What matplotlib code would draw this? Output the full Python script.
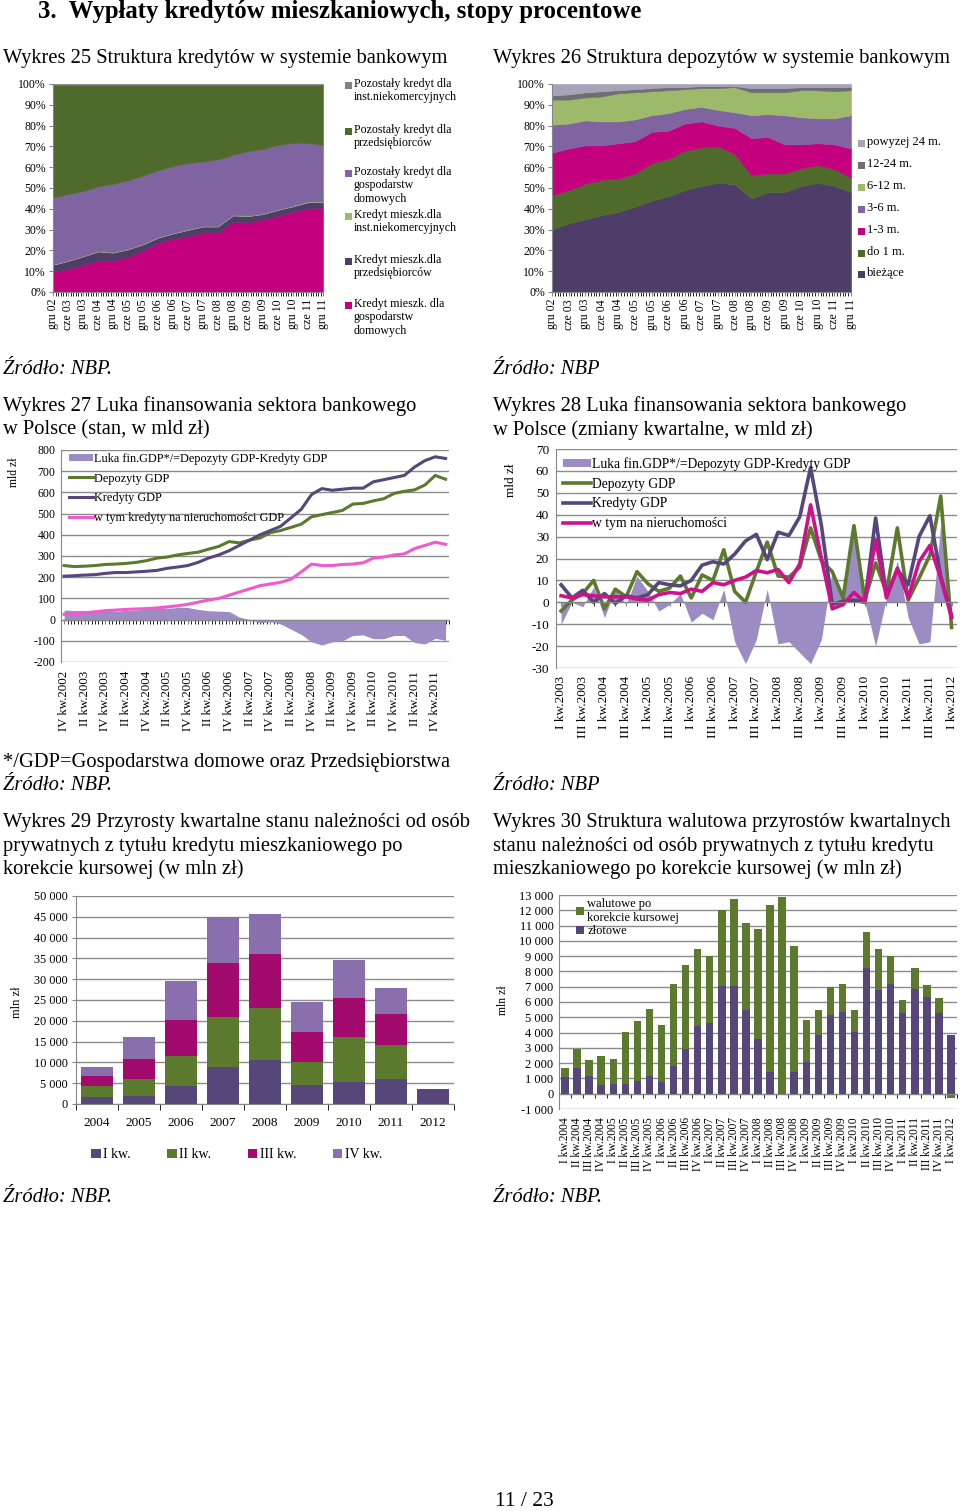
import numpy as np
import matplotlib.pyplot as plt
from matplotlib.patches import Rectangle
from matplotlib.ticker import FuncFormatter

plt.rcParams['font.family'] = ['Liberation Serif', 'DejaVu Serif']
plt.rcParams['axes.unicode_minus'] = False

# ---- Wykres 25: struktura kredytów (udziały %, co pół roku) ----
polrocza = ['gru 02', 'cze 03', 'gru 03', 'cze 04', 'gru 04', 'cze 05', 'gru 05',
            'cze 06', 'gru 06', 'cze 07', 'gru 07', 'cze 08', 'gru 08', 'cze 09',
            'gru 09', 'cze 10', 'gru 10', 'cze 11', 'gru 11']
kr_mieszk_gd = [10, 11, 13, 15, 15, 17, 20, 23.5, 25.5, 27, 28.5, 28.5, 34, 33.5, 35, 36.5, 38.5, 40, 40.5]
kr_mieszk_prz = [3, 4, 4, 4.5, 4, 3.5, 3, 2.5, 2.5, 3, 3, 3, 3, 3, 2.5, 3, 2.5, 3, 2.5]
kr_mieszk_inst = [0.3, 0.3, 0.3, 0.3, 0.3, 0.3, 0.3, 0.3, 0.3, 0.3, 0.3, 0.3, 0.3, 0.3, 0.3, 0.3, 0.3, 0.4, 0.4]
poz_gd = [32, 32, 31, 31, 33, 33, 33, 32, 32, 32, 31, 32, 29, 31, 31, 31, 30, 28, 27]
poz_prz = [54, 53, 51, 49, 48, 46, 44, 41, 39, 38, 37, 36, 34, 32, 31, 29, 28, 28, 29]
poz_inst = [0.3, 0.3, 0.3, 0.3, 0.3, 0.3, 0.3, 0.3, 0.3, 0.3, 0.3, 0.3, 0.3, 0.3, 0.3, 0.3, 0.3, 0.3, 0.3]

# ---- Wykres 26: struktura depozytów (udziały %, co pół roku) ----
biezace = [30, 33, 35, 37, 38.5, 41, 44, 46, 49, 51, 52.5, 51.5, 45, 48, 48, 51, 52.5, 51, 48]
do_1m = [16.5, 16, 17, 17, 16, 16, 18, 18, 19, 18.5, 17.5, 14.5, 11, 9, 9, 8.5, 8.5, 8, 7]
m_1_3 = [20.5, 20, 18.5, 16.5, 17, 15.5, 15, 13.5, 13, 12.5, 10, 12.5, 18, 17.5, 14, 11.5, 10.5, 12, 14]
m_3_6 = [13.5, 12, 12, 11.5, 10.5, 10.5, 8, 8.5, 7, 7, 7.5, 7.5, 11, 11, 14, 13, 12, 12.5, 16]
m_6_12 = [12, 11.5, 11, 12, 13.5, 13, 11.5, 11, 9.5, 9, 10.5, 12, 11, 10.5, 11, 13, 13.5, 13, 12]
m_12_24 = [2, 2.5, 2.5, 2.5, 1.5, 1.5, 1.5, 1.5, 1, 1, 1, 0.5, 2, 2, 2, 1.5, 1.5, 2, 1.5]
pow_24 = [5.5, 5, 4, 3.5, 3, 2.5, 2, 1.5, 1.5, 1, 1, 1, 2, 2, 2, 1.5, 1.5, 1.5, 1.5]

# ---- Wykres 27: luka finansowania, stan (mld zł, kwartalnie od IV kw. 2002) ----
kredyty_stan = [205, 207, 210, 212, 218, 222, 222, 225, 228, 232, 242, 248, 255, 270, 290, 305,
                325, 350, 375, 400, 420, 440, 480, 520, 590, 618, 610, 615, 620, 620, 650, 660,
                670, 680, 720, 750, 768, 760]
depozyty_stan = [255, 250, 252, 255, 260, 262, 265, 270, 278, 290, 295, 305, 312, 318, 332, 345,
                 368, 362, 375, 385, 410, 420, 435, 450, 485, 495, 505, 515, 545, 548, 560, 570,
                 595, 605, 612, 635, 680, 662]
nieruch_stan = [25, 28, 32, 37, 42, 45, 48, 50, 52, 55, 60, 65, 72, 82, 92, 100,
                115, 130, 145, 160, 168, 176, 190, 225, 262, 255, 255, 260, 262, 268, 290, 295,
                305, 310, 335, 350, 365, 355]
luka_stan = [45, 43, 42, 43, 42, 40, 43, 45, 50, 58, 53, 57, 57, 48, 42, 40,
             38, 12, 0, -15, -10, -20, -45, -70, -105, -120, -105, -100, -75, -72, -90, -90,
             -75, -75, -108, -115, -88, -98]

# ---- Wykres 28: luka finansowania, zmiany kwartalne (mld zł, od I kw. 2003) ----
kredyty_zm = [8, 2, 5.5, 0, 4, -0.5, 3, 2, 3.5, 9, 8, 7.5, 10, 17, 18.5, 17.5, 22, 28, 31,
              19.5, 32, 30.5, 39, 61.5, 35, -1, 0.5, 1, 0, 38.5, 3, 15, 8, 30, 39.5, 12, -6]
depozyty_zm = [-4, 1, 4, 10, -3, 6, 2.5, 14, 8.5, 5, 6.5, 12, 2, 12.5, 10, 24, 5, 0, 14,
               27.5, 12, 11.5, 16, 34, 19, 14, 2, 35, 1, 18, 4.5, 34, 1, 11, 21.5, 48.5, -11.5]
nieruch_zm = [3, 2, 3.5, 3, 2.5, 2.5, 2.5, 1.5, 1, 3.5, 4.5, 4, 6, 5, 9, 8, 10, 11.5, 14.5,
              13.5, 15, 9, 17.5, 44.5, 20, -3, -1, 4.5, 0, 28.5, 2, 15.5, 2, 18.5, 26, 11, -7]
luka_zm = [-10, 0, -2, 7, -7, 6, -1, 12, 5, -4, -1, 4, -9, -5, -8, 6, -18, -28, -17,
           6, -19, -18, -23, -28, -17, 15, 1, 35, 0, -20, 2, 19, -7, -19, -18, 36, -5]

# ---- Wykres 29: przyrosty kwartalne (mln zł) ----
lata = ['2004', '2005', '2006', '2007', '2008', '2009', '2010', '2011', '2012']
kw1 = [1600, 1900, 4400, 9000, 10600, 4600, 5400, 6000, 3500]
kw2 = [2800, 4000, 7200, 11900, 12400, 5500, 10600, 8300, 0]
kw3 = [2300, 4800, 8600, 12900, 13000, 7100, 9500, 7300, 0]
kw4 = [2300, 5500, 9400, 11200, 9600, 7200, 9000, 6200, 0]

# ---- Wykres 30: struktura walutowa przyrostów (mln zł, od I kw. 2004) ----
zlotowe = [1100, 1700, 1150, 600, 650, 650, 850, 1150, 750, 1800, 2950, 4400, 4600, 7050,
           7050, 5500, 3600, 1400, 0, 1400, 2050, 3850, 5150, 5350, 4050, 8200, 6800, 7200,
           5300, 6850, 6350, 5300, 3850]
walutowe = [550, 1200, 1050, 1850, 1600, 3400, 3900, 4400, 3750, 5400, 5450, 5050, 4400, 4950,
            5700, 5700, 7150, 10950, 12850, 8250, 2750, 1600, 1850, 1800, 1450, 2350, 2650, 1800,
            800, 1400, 750, 950, -250]

rzymskie = ['I', 'II', 'III', 'IV']
kwartaly = [f'{k} kw.{r}' for r in range(2002, 2013) for k in rzymskie]

# colours
DPURPLE = '#56467a'
DPURPLE_A = '#4e3d68'
GREEN = '#5b7a2e'
GREEN_A = '#4f6a2a'
MAGENTA = '#c4007f'
MAGENTA_B = '#a30a6e'
MAGENTA_L = '#d0108a'
PINK = '#f05acd'
LAV = '#8064a2'
LAV_B = '#8a6fae'
LAV_L = '#9d8cc4'
LGREEN = '#9dba6a'
GRAY = '#808080'
DGRAY = '#6f6f6f'
LGRAY = '#a6a3b8'
GRID = '#8c8c8c'
AXC = '#868686'

W, H = 960, 1511
fig = plt.figure(figsize=(W / 100, H / 100), dpi=100)


def axes_px(x0, y0, x1, y1):
    return fig.add_axes([x0 / W, 1 - y1 / H, (x1 - x0) / W, (y1 - y0) / H])


def text_px(x, y, s, **kw):
    kw.setdefault('va', 'center')
    kw.setdefault('fontsize', 14.8)
    return fig.text(x / W, 1 - y / H, s, **kw)


def square_legend(entries, x_sq, x_txt, ys, size, fs):
    for (label, color), y in zip(entries, ys):
        fig.add_artist(Rectangle((x_sq / W, 1 - (y + size / 2) / H), size / W, size / H,
                                 transform=fig.transFigure, color=color, lw=0))
        text_px(x_txt, y - 7, label, va='top', fontsize=fs, linespacing=1.15)


def base_style(ax):
    for s in ['top', 'right']:
        ax.spines[s].set_visible(False)
    for s in ['left', 'bottom']:
        ax.spines[s].set_color(AXC)
    ax.tick_params(colors=AXC, labelcolor='black')


thousands = FuncFormatter(lambda v, p: f'{int(round(v)):,}'.replace(',', ' '))
percent = FuncFormatter(lambda v, p: f'{v:.0f}%')

# ---------------- texts ----------------
text_px(38, 18, '3.  Wypłaty kredytów mieszkaniowych, stopy procentowe', fontsize=17.8,
        fontweight='bold', va='baseline')
text_px(3, 58, 'Wykres 25 Struktura kredytów w systemie bankowym')
text_px(493, 58, 'Wykres 26 Struktura depozytów w systemie bankowym')
text_px(3, 370, 'Źródło: NBP.', style='italic')
text_px(493, 370, 'Źródło: NBP', style='italic')
text_px(3, 406, 'Wykres 27 Luka finansowania sektora bankowego')
text_px(3, 430, 'w Polsce (stan, w mld zł)')
text_px(493, 406, 'Wykres 28 Luka finansowania sektora bankowego')
text_px(493, 430, 'w Polsce (zmiany kwartalne, w mld zł)')
text_px(3, 762, '*/GDP=Gospodarstwa domowe oraz Przedsiębiorstwa')
text_px(3, 786, 'Źródło: NBP.', style='italic')
text_px(493, 786, 'Źródło: NBP', style='italic')
text_px(3, 822, 'Wykres 29 Przyrosty kwartalne stanu należności od osób')
text_px(3, 846, 'prywatnych z tytułu kredytu mieszkaniowego po')
text_px(3, 869, 'korekcie kursowej (w mln zł)')
text_px(493, 822, 'Wykres 30 Struktura walutowa przyrostów kwartalnych')
text_px(493, 846, 'stanu należności od osób prywatnych z tytułu kredytu')
text_px(493, 869, 'mieszkaniowego po korekcie kursowej (w mln zł)')
text_px(3, 1197, 'Źródło: NBP.', style='italic')
text_px(493, 1197, 'Źródło: NBP.', style='italic')
text_px(524, 1501, '11 / 23', ha='center', fontsize=15.5)

# ---------------- Wykres 25 ----------------
ax = axes_px(53, 84, 323, 292)
x_half = np.arange(len(polrocza)) * 6
warstwy = np.array([kr_mieszk_gd, kr_mieszk_prz, kr_mieszk_inst, poz_gd, poz_prz, poz_inst], dtype=float)
warstwy = warstwy / warstwy.sum(axis=0) * 100
kol25 = [MAGENTA, DPURPLE_A, LGREEN, LAV, GREEN_A, GRAY]
for p in ax.stackplot(x_half, warstwy, colors=kol25):
    p.set_edgecolor(p.get_facecolor())
    p.set_linewidth(0.4)
base_style(ax)
ax.set_xlim(0, x_half[-1])
ax.set_ylim(0, 100)
ax.set_yticks(np.arange(0, 101, 10))
ax.yaxis.set_major_formatter(percent)
ax.set_xticks(x_half, polrocza, rotation=90)
ax.set_xticks(np.arange(0, x_half[-1] + 1), minor=True)
ax.tick_params(axis='both', which='both', labelsize=8.5, length=3, pad=2)
square_legend([('Pozostały kredyt dla\ninst.niekomercyjnych', GRAY),
               ('Pozostały kredyt dla\nprzedsiębiorców', GREEN_A),
               ('Pozostały kredyt dla\ngospodarstw\ndomowych', LAV),
               ('Kredyt mieszk.dla\ninst.niekomercyjnych', LGREEN),
               ('Kredyt mieszk.dla\nprzedsiębiorców', DPURPLE_A),
               ('Kredyt mieszk. dla\ngospodarstw\ndomowych', MAGENTA)],
              345, 354, [85, 131, 173, 216, 261, 305], 7, 8.6)

# ---------------- Wykres 26 ----------------
ax = axes_px(552, 84, 851, 292)
warstwy = np.array([biezace, do_1m, m_1_3, m_3_6, m_6_12, m_12_24, pow_24], dtype=float)
warstwy = warstwy / warstwy.sum(axis=0) * 100
kol26 = [DPURPLE_A, GREEN_A, MAGENTA, LAV, LGREEN, DGRAY, LGRAY]
for p in ax.stackplot(x_half, warstwy, colors=kol26):
    p.set_edgecolor(p.get_facecolor())
    p.set_linewidth(0.4)
base_style(ax)
ax.set_xlim(0, x_half[-1])
ax.set_ylim(0, 100)
ax.set_yticks(np.arange(0, 101, 10))
ax.yaxis.set_major_formatter(percent)
ax.set_xticks(x_half, polrocza, rotation=90)
ax.set_xticks(np.arange(0, x_half[-1] + 1), minor=True)
ax.tick_params(axis='both', which='both', labelsize=8.5, length=3, pad=2)
square_legend([('powyzej 24 m.', LGRAY), ('12-24 m.', DGRAY), ('6-12 m.', LGREEN),
               ('3-6 m.', LAV), ('1-3 m.', MAGENTA), ('do 1 m.', GREEN_A), ('bieżące', DPURPLE_A)],
              858, 867, [143, 165, 187, 209, 231, 253, 274], 7, 9)

# ---------------- Wykres 27 ----------------
ax = axes_px(61, 450, 449, 662)
q27 = np.arange(len(kredyty_stan))
ax.fill_between(q27, 0, luka_stan, color=LAV_L, lw=0, label='Luka fin.GDP*/=Depozyty GDP-Kredyty GDP')
ax.plot(q27, depozyty_stan, color=GREEN, lw=2.2, label='Depozyty GDP')
ax.plot(q27, kredyty_stan, color=DPURPLE, lw=2.2, label='Kredyty GDP')
ax.plot(q27, nieruch_stan, color=PINK, lw=2.2, label='w tym kredyty na nieruchomości GDP')
base_style(ax)
ax.spines['bottom'].set_position(('data', 0))
ax.set_ylim(-200, 800)
ax.set_yticks(np.arange(-200, 801, 100))
ax.set_xlim(-0.3, 37.3)
ax.set_xticks(q27[::2], kwartaly[3:3 + 38:2], rotation=90)
ax.set_xticks(np.arange(0, 37.4, 1 / 3), minor=True)
ax.yaxis.grid(True, color=GRID, lw=1)
ax.set_axisbelow(True)
ax.tick_params(axis='y', length=0, labelsize=8.5, pad=4)
ax.tick_params(axis='x', which='both', length=3, pad=34, labelsize=9.3)
ax.legend(loc='upper left', bbox_to_anchor=(0.02, 0.99), frameon=False, fontsize=8.8,
          handlelength=1.9, handleheight=0.6, handletextpad=0.15, labelspacing=0.64,
          borderaxespad=0, borderpad=0.05)
text_px(14, 472, 'mld zł', rotation=90, ha='center', fontsize=8.5)

# ---------------- Wykres 28 ----------------
ax = axes_px(556, 449, 957, 668)
i28 = np.arange(len(kredyty_zm))
ax.fill_between(i28, 0, luka_zm, color=LAV_L, lw=0, label='Luka fin.GDP*/=Depozyty GDP-Kredyty GDP')
ax.plot(i28, depozyty_zm, color=GREEN, lw=2.6, label='Depozyty GDP')
ax.plot(i28, kredyty_zm, color=DPURPLE, lw=2.6, label='Kredyty GDP')
ax.plot(i28, nieruch_zm, color=MAGENTA_L, lw=2.6, label='w tym na nieruchomości')
base_style(ax)
ax.spines['bottom'].set_position(('data', 0))
ax.set_ylim(-30, 70)
ax.set_yticks(np.arange(-30, 71, 10))
ax.set_xlim(-0.47, 36.5)
ax.set_xticks(i28[::2], kwartaly[4:4 + 37:2], rotation=90)
ax.set_xticks(i28, minor=True)
ax.yaxis.grid(True, color=GRID, lw=1)
ax.set_axisbelow(True)
ax.tick_params(axis='y', length=0, labelsize=9.5, pad=5)
ax.tick_params(axis='x', which='both', length=3, pad=50, labelsize=9.5)
ax.legend(loc='upper left', bbox_to_anchor=(0.015, 0.97), frameon=False, fontsize=9.8,
          handlelength=2.0, handleheight=0.6, handletextpad=0.1, labelspacing=0.5,
          borderaxespad=0, borderpad=0.1)
text_px(511, 480, 'mld zł', rotation=90, ha='center', fontsize=9.5)

# ---------------- Wykres 29 ----------------
ax = axes_px(76, 896, 454, 1104)
xl = np.arange(len(lata))
dol = np.zeros(len(lata))
for vals, col, lab in zip([kw1, kw2, kw3, kw4], [DPURPLE, GREEN, MAGENTA_B, LAV_B],
                          ['I kw.', 'II kw.', 'III kw.', 'IV kw.']):
    ax.bar(xl, vals, 0.75, bottom=dol, color=col, label=lab)
    dol += np.array(vals, dtype=float)
base_style(ax)
ax.set_ylim(0, 50000)
ax.set_yticks(np.arange(0, 50001, 5000))
ax.yaxis.set_major_formatter(thousands)
ax.set_xlim(-0.5, len(lata) - 0.5)
ax.set_xticks(xl, lata)
ax.set_xticks(np.arange(-0.5, len(lata)), minor=True)
ax.yaxis.grid(True, color=GRID, lw=1)
ax.set_axisbelow(True)
ax.tick_params(axis='y', length=3, labelsize=8.8, pad=3)
ax.tick_params(axis='x', which='major', length=0, labelsize=9.5, pad=9)
ax.tick_params(axis='x', which='minor', length=4)
ax.legend(loc='center', bbox_to_anchor=(0.425, -0.245), ncol=4, frameon=False, fontsize=10,
          handlelength=0.7, handleheight=0.7, handletextpad=0.2, columnspacing=2.6)
text_px(17, 1002, 'mln zł', rotation=90, ha='center', fontsize=9)

# ---------------- Wykres 30 ----------------
ax = axes_px(559, 895, 957, 1109)
x30 = np.arange(len(zlotowe))
zl = np.array(zlotowe, dtype=float)
wal = np.array(walutowe, dtype=float)
b_zl = ax.bar(x30, zl, 0.62, color=DPURPLE, label='złotowe')
b_wal = ax.bar(x30, wal, 0.62, bottom=np.where(wal >= 0, zl, 0), color=GREEN,
               label='walutowe po\nkorekcie kursowej')
base_style(ax)
ax.spines['bottom'].set_position(('data', 0))
ax.set_ylim(-1000, 13000)
ax.set_yticks(np.arange(-1000, 13001, 1000))
ax.yaxis.set_major_formatter(thousands)
ax.set_xlim(-0.5, len(zlotowe) - 0.5)
ax.set_xticks(x30, kwartaly[8:8 + 33], rotation=90)
ax.set_xticks(np.arange(-0.5, len(zlotowe)), minor=True)
ax.yaxis.grid(True, color=GRID, lw=1)
ax.set_axisbelow(True)
ax.tick_params(axis='y', length=0, labelsize=9, pad=4)
ax.tick_params(axis='x', which='major', length=0, labelsize=8.3, pad=17)
ax.tick_params(axis='x', which='minor', length=3)
ax.legend([b_wal, b_zl], ['walutowe po\nkorekcie kursowej', 'złotowe'], loc='upper left',
          bbox_to_anchor=(0.04, 0.99), frameon=False, fontsize=9, handlelength=0.6,
          handleheight=0.6, handletextpad=0.3, labelspacing=0.1, borderaxespad=0, borderpad=0.1)
text_px(503, 1000, 'mln zł', rotation=90, ha='center', fontsize=8.5)

fig.savefig('out.png', dpi=100, facecolor='white')
